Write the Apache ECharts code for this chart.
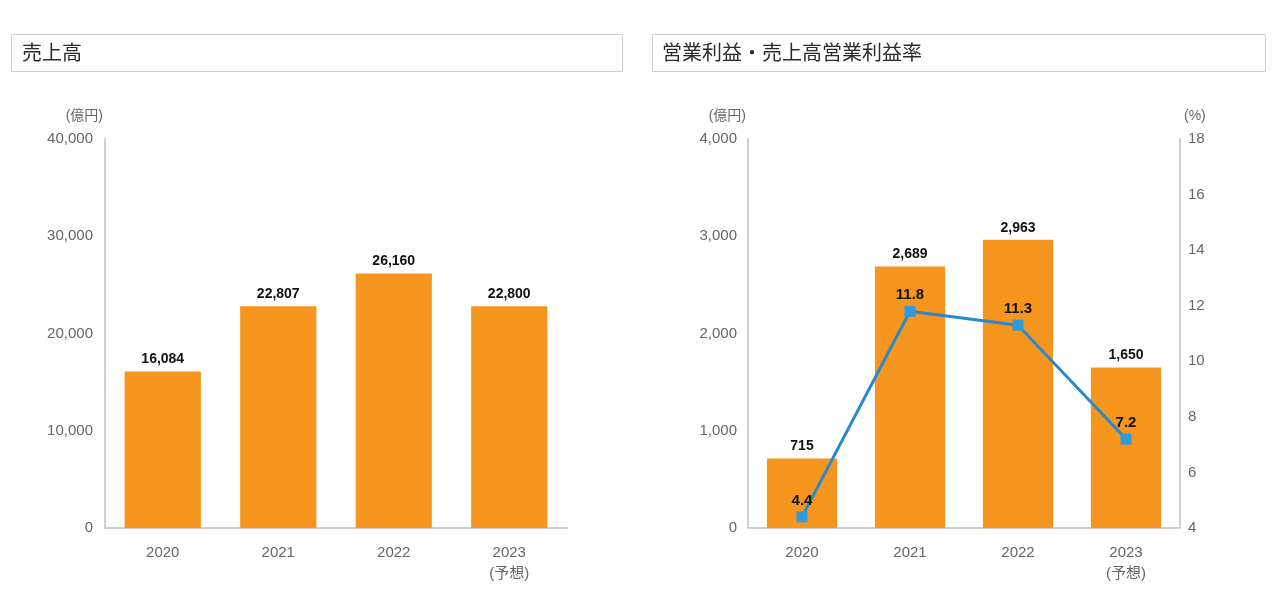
<!DOCTYPE html>
<html><head><meta charset="utf-8">
<script src="https://cdn.jsdelivr.net/npm/echarts@6/dist/echarts.min.js"></script>
<style>html,body{margin:0;padding:0;background:#fff}#c{width:1279px;height:602px}</style>
</head><body><div id="c"></div>
<script>
const categories = ['2020', '2021', '2022', '2023\n(予想)'];
const sales = [16084, 22807, 26160, 22800];
const opIncome = [715, 2689, 2963, 1650];
const opMargin = [4.4, 11.8, 11.3, 7.2];
const titleLeft = '売上高';
const titleRight = '営業利益・売上高営業利益率';
const unitYen = '(億円)';
const unitPct = '(%)';

const FONT = '"Liberation Sans", Arial, "Noto Sans CJK JP", sans-serif';
const ORANGE = '#F7961F';
const BLUE = '#2A89C8';
const axisLineStyle = { lineStyle: { color: '#cfcfcf', width: 2 } };
const tickLabel = { color: '#666', fontSize: 15, fontFamily: FONT };
const barLabel = { show: true, position: 'top', distance: 5, color: '#111', fontSize: 14, fontWeight: 'bold', fontFamily: FONT, formatter: p => p.value.toLocaleString('en-US') };
const nameStyle = { color: '#666', fontSize: 14, fontFamily: FONT, verticalAlign: 'middle' };

const chart = echarts.init(document.getElementById('c'));
chart.setOption({
  animation: false,
  backgroundColor: '#fff',
  graphic: [
    { type: 'rect', shape: { x: 11.5, y: 34.5, width: 611, height: 37 }, style: { fill: '#fff', stroke: '#cfcfcf', lineWidth: 1 } },
    { type: 'rect', shape: { x: 652.5, y: 34.5, width: 613, height: 37 }, style: { fill: '#fff', stroke: '#cfcfcf', lineWidth: 1 } }
  ],
  title: [
    { text: titleLeft, left: 17, top: 37, textStyle: { fontSize: 20, fontWeight: 'normal', color: '#2a2a2a', fontFamily: '"Noto Sans CJK JP", sans-serif' } },
    { text: titleRight, left: 657, top: 37, textStyle: { fontSize: 20, fontWeight: 'normal', color: '#2a2a2a', fontFamily: '"Noto Sans CJK JP", sans-serif' } }
  ],
  grid: [
    { left: 105, top: 139, width: 462, height: 389 },
    { left: 748, top: 139, width: 432, height: 389 }
  ],
  xAxis: [
    { type: 'category', gridIndex: 0, data: categories, axisLine: axisLineStyle, axisTick: { show: false },
      axisLabel: Object.assign({ margin: 14, lineHeight: 21 }, tickLabel) },
    { type: 'category', gridIndex: 1, data: categories, axisLine: axisLineStyle, axisTick: { show: false },
      axisLabel: Object.assign({ margin: 14, lineHeight: 21 }, tickLabel) }
  ],
  yAxis: [
    { type: 'value', gridIndex: 0, min: 0, max: 40000, interval: 10000,
      name: unitYen, nameLocation: 'end', nameGap: 23,
      nameTextStyle: Object.assign({ align: 'right', padding: [0, 2, 0, 0] }, nameStyle),
      axisLine: Object.assign({ show: true }, axisLineStyle), axisTick: { show: false }, splitLine: { show: false },
      axisLabel: Object.assign({ margin: 12, formatter: v => v.toLocaleString('en-US') }, tickLabel) },
    { type: 'value', gridIndex: 1, min: 0, max: 4000, interval: 1000,
      name: unitYen, nameLocation: 'end', nameGap: 23,
      nameTextStyle: Object.assign({ align: 'right', padding: [0, 2, 0, 0] }, nameStyle),
      axisLine: Object.assign({ show: true }, axisLineStyle), axisTick: { show: false }, splitLine: { show: false },
      axisLabel: Object.assign({ margin: 11, formatter: v => v.toLocaleString('en-US') }, tickLabel) },
    { type: 'value', gridIndex: 1, position: 'right', min: 4, max: 18, interval: 2,
      name: unitPct, nameLocation: 'end', nameGap: 23,
      nameTextStyle: Object.assign({ align: 'left', padding: [0, 0, 0, 4] }, nameStyle),
      axisLine: Object.assign({ show: true }, axisLineStyle), axisTick: { show: false }, splitLine: { show: false },
      axisLabel: Object.assign({ margin: 8 }, tickLabel) }
  ],
  series: [
    { type: 'bar', xAxisIndex: 0, yAxisIndex: 0, data: sales, barWidth: '66%', itemStyle: { color: ORANGE }, label: barLabel },
    { type: 'bar', xAxisIndex: 1, yAxisIndex: 1, data: opIncome, barWidth: '65%', itemStyle: { color: ORANGE }, label: barLabel },
    { type: 'line', xAxisIndex: 1, yAxisIndex: 2, data: opMargin, z: 5,
      symbol: 'rect', symbolSize: 11,
      lineStyle: { color: BLUE, width: 3 }, itemStyle: { color: '#2E9BDB' },
      label: { show: true, position: 'top', distance: 3, color: '#111', fontSize: 15, fontWeight: 'bold', fontFamily: FONT,
        formatter: p => p.value.toFixed(1) } }
  ]
});
</script></body></html>
